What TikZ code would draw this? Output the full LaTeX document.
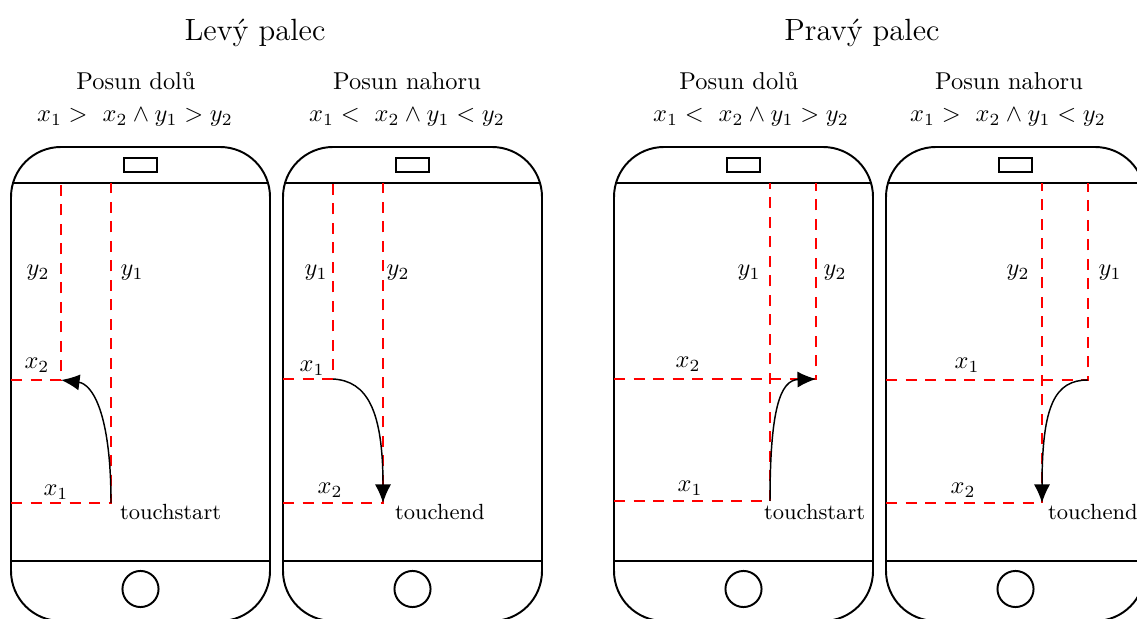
\documentclass[tikz,border=0pt]{standalone}
\usetikzlibrary{arrows.meta}
\begin{document}
\begin{tikzpicture}[x=0.41pt, y=-0.41pt,
  every node/.style={inner sep=0pt, outer sep=0pt},
  body/.style={line width=0.8pt, rounded corners=20.5pt},
  rim/.style={line width=0.8pt},
  guide/.style={red, line width=0.8pt, dash pattern=on 4.6pt off 3.4pt},
  swipe/.style={line width=0.6pt, -{Latex[length=7.6pt,width=6.6pt]}},
  heading/.style={font=\fontsize{12.6}{15}\selectfont, anchor=base},
  subheading/.style={anchor=base},
  condition/.style={anchor=base},
  axis/.style={},
  yaxis/.style={anchor=base},
  event/.style={font=\small, anchor=base west},
  phone/.pic={
    \draw[body] (0,0) rectangle (259,474);
    \draw[rim] (2,36) -- (257,36);
    \draw[rim] (0,414) -- (259,414);
    \draw[rim] (113,11) rectangle (146,25);
    \draw[rim] (129.5,442) circle[radius=7.4pt];
  }]
\useasboundingbox (0,0) rectangle (1137,619);
\clip (0,0) rectangle (1137,619);

% headings
\node[heading] (lefttitle) at (255,41) {Levý palec};
\node[heading] (righttitle) at (862,41) {Pravý palec};
\node[subheading] (sub1) at (136,90) {Posun dolů};
\node[subheading] (sub2) at (407,90) {Posun nahoru};
\node[subheading] (sub3) at (739,90) {Posun dolů};
\node[subheading] (sub4) at (1009,90) {Posun nahoru};
\node[condition] (cond1) at (135,122) {$x_1 >\ x_2 \wedge y_1 > y_2$};
\node[condition] (cond2) at (407,122) {$x_1 <\ x_2 \wedge y_1 < y_2$};
\node[condition] (cond3) at (751,122) {$x_1 <\ x_2 \wedge y_1 > y_2$};
\node[condition] (cond4) at (1008,122) {$x_1 >\ x_2 \wedge y_1 < y_2$};

% phone bodies
\pic at (11,147) {phone};
\pic at (283,147) {phone};
\pic at (614,147) {phone};
\pic at (886,147) {phone};

% left thumb, swipe down
\coordinate (s1) at (111,503);
\coordinate (e1) at (61,380);
\draw[guide] (11,380) -- (e1) -- (61,183);
\draw[guide] (11,503) -- (s1) -- (111,183);
\node[yaxis] (a1y2) at (38,276) {$y_2$};
\node[yaxis] (a1y1) at (132,276) {$y_1$};
\node[axis] (a1x2) at (37,365) {$x_2$};
\node[axis] (a1x1) at (56,492) {$x_1$};
\draw[swipe] (s1) .. controls (111,412) and (92,384) .. (e1);
\node[event] (ev1) at (120,519) {touchstart};

% left thumb, swipe up
\coordinate (s2) at (333,379);
\coordinate (e2) at (383,503);
\draw[guide] (283,379) -- (s2) -- (333,183);
\draw[guide] (283,503) -- (e2) -- (383,183);
\node[yaxis] (a2y1) at (316,276) {$y_1$};
\node[yaxis] (a2y2) at (398,276) {$y_2$};
\node[axis] (a2x1) at (312,368) {$x_1$};
\node[axis] (a2x2) at (330,490) {$x_2$};
\draw[swipe] (s2) .. controls (367,381) and (383,410) .. (e2);
\node[event] (ev2) at (395,519) {touchend};

% right thumb, swipe down
\coordinate (s3) at (770,501);
\coordinate (e3) at (816,379);
\draw[guide] (614,379) -- (e3) -- (816,183);
\draw[guide] (614,501) -- (s3) -- (770,183);
\node[yaxis] (a3y1) at (749,276) {$y_1$};
\node[yaxis] (a3y2) at (835,276) {$y_2$};
\node[axis] (a3x2) at (688,364) {$x_2$};
\node[axis] (a3x1) at (690,488) {$x_1$};
\draw[swipe] (s3) .. controls (770,410) and (780,380) .. (e3);
\node[event] (ev3) at (764,519) {touchstart};

% right thumb, swipe up
\coordinate (s4) at (1088,380);
\coordinate (e4) at (1042,503);
\draw[guide] (886,380) -- (s4) -- (1088,183);
\draw[guide] (886,503) -- (e4) -- (1042,183);
\node[yaxis] (a4y2) at (1018,276) {$y_2$};
\node[yaxis] (a4y1) at (1110,276) {$y_1$};
\node[axis] (a4x1) at (967,365) {$x_1$};
\node[axis] (a4x2) at (963,490) {$x_2$};
\draw[swipe] (s4) .. controls (1055,380) and (1042,405) .. (e4);
\node[event] (ev4) at (1048,519) {touchend};
\end{tikzpicture}
\end{document}
